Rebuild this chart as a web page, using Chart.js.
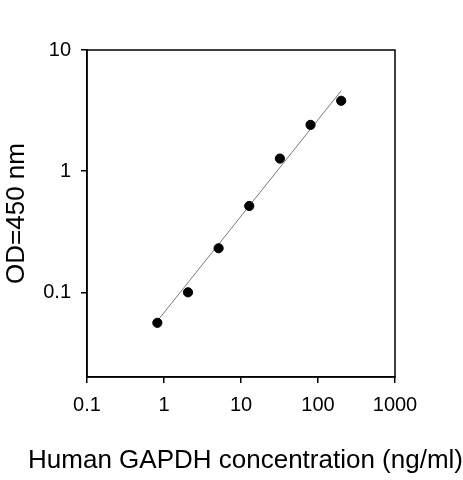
<!DOCTYPE html>
<html>
<head>
<meta charset="utf-8">
<title>GAPDH standard curve</title>
<script src="https://cdn.jsdelivr.net/npm/chart.js@4/dist/chart.umd.min.js"></script>
<style>
  html, body { margin: 0; padding: 0; background: #fff; }
  #wrap { width: 463px; height: 480px; }
</style>
</head>
<body>
<div id="wrap"><canvas id="curve" width="463" height="480"></canvas></div>
<script>
// ── Data ──────────────────────────────────────────────────────────────────
const concentrations = [0.82, 2.05, 5.12, 12.8, 32, 80, 200];   // ng/ml
const odValues       = [0.056, 0.100, 0.231, 0.516, 1.27, 2.41, 3.81];
const fitX           = [0.82, 200];
const fitY           = [0.058, 4.61];
const xTickValues    = [0.1, 1, 10, 100, 1000];
const yTickValues    = [0.1, 1, 10];

const FONT = "'Liberation Sans', Arial, sans-serif";

// frame on all four sides of the plot area
const framePlugin = {
  id: 'frame',
  afterDraw(chart) {
    const { ctx, chartArea: a } = chart;
    ctx.save();
    ctx.strokeStyle = '#000';
    ctx.lineWidth = 1.5;
    ctx.strokeRect(a.left, a.top, a.right - a.left, a.bottom - a.top);
    ctx.restore();
  }
};

const points = concentrations.map((x, i) => ({ x, y: odValues[i] }));
const fit    = fitX.map((x, i) => ({ x, y: fitY[i] }));

new Chart(document.getElementById('curve'), {
  type: 'scatter',
  data: {
    datasets: [
      {
        label: 'OD',
        data: points,
        backgroundColor: '#000',
        borderColor: '#000',
        pointRadius: 4.6,
        pointHoverRadius: 4.6,
        order: 1
      },
      {
        label: 'fit',
        data: fit,
        showLine: true,
        borderColor: '#7a7a7a',
        borderWidth: 1,
        pointRadius: 0,
        order: 2
      }
    ]
  },
  options: {
    responsive: false,
    animation: false,
    layout: { padding: { top: 50, right: 0, left: 0, bottom: 0 } },
    plugins: {
      legend: { display: false },
      tooltip: { enabled: false },
      title: {
        display: true,
        position: 'bottom',
        align: 'end',
        text: 'Human GAPDH concentration (ng/ml)',
        color: '#000',
        font: { family: FONT, size: 26, weight: 'normal' },
        padding: { top: 0, bottom: 4 }
      }
    },
    scales: {
      x: {
        type: 'logarithmic',
        min: 0.1,
        max: 1000,
        afterBuildTicks: s => { s.ticks = xTickValues.map(v => ({ value: v })); },
        afterFit: s => { s.height = 67.8; },
        grid: { drawOnChartArea: false, drawTicks: true, tickLength: 6, color: '#000', lineWidth: 1.5 },
        border: { display: true, color: '#000', width: 1.5 },
        ticks: {
          color: '#000', padding: 10, maxRotation: 0, autoSkip: false,
          font: { family: FONT, size: 20 },
          callback: v => String(v)
        }
      },
      y: {
        type: 'logarithmic',
        min: 0.02,
        max: 10,
        afterBuildTicks: s => { s.ticks = yTickValues.map(v => ({ value: v })); },
        afterFit: s => { s.width = 87; },
        grid: { drawOnChartArea: false, drawTicks: true, tickLength: 6, color: '#000', lineWidth: 1.5 },
        border: { display: true, color: '#000', width: 1.5 },
        ticks: {
          color: '#000', padding: 10, autoSkip: false,
          font: { family: FONT, size: 20 },
          callback: v => String(v)
        },
        title: {
          display: true,
          text: 'OD=450 nm',
          color: '#000',
          font: { family: FONT, size: 26 },
          padding: { top: 1, bottom: 0 }
        }
      },
      // empty right-hand gutter so the plot ends where the reference does
      gutter: {
        type: 'linear',
        position: 'right',
        min: 0,
        max: 1,
        afterFit: s => { s.width = 68; },
        grid: { display: false },
        border: { display: false },
        ticks: { display: false }
      }
    }
  },
  plugins: [framePlugin]
});
</script>
</body>
</html>
